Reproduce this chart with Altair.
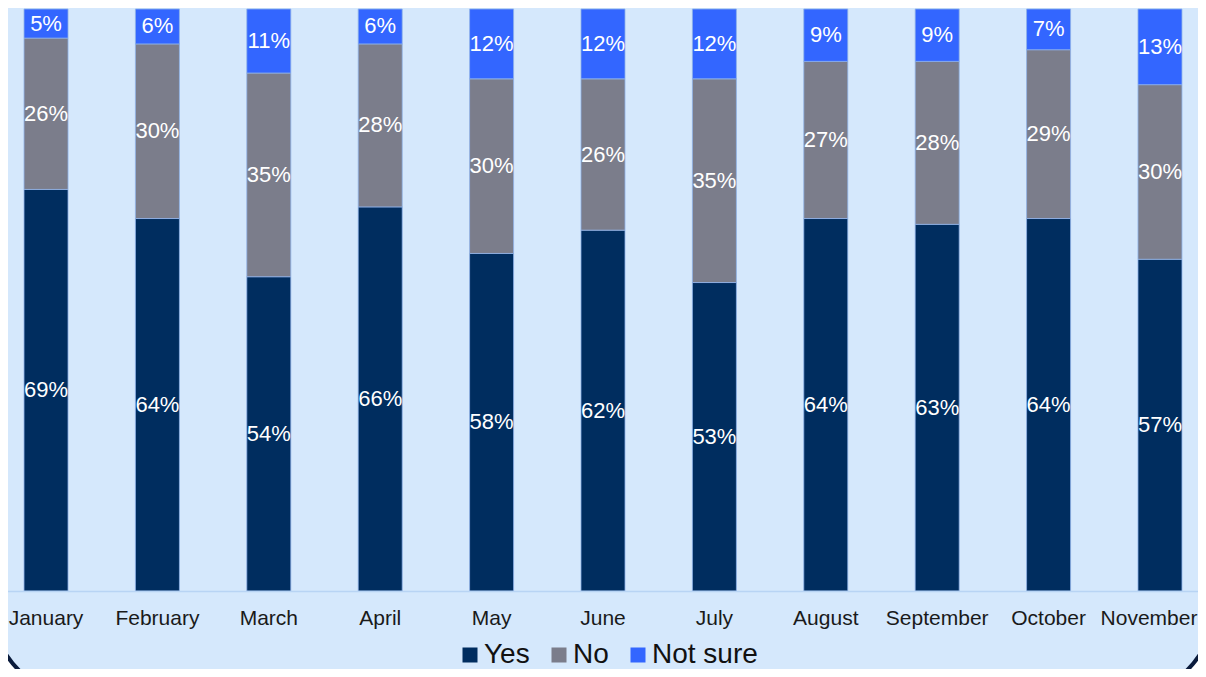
import altair as alt
import pandas as pd

months = ["January", "February", "March", "April", "May", "June",
          "July", "August", "September", "October", "November"]
yes = [69, 64, 54, 66, 58, 62, 53, 64, 63, 64, 57]
no = [26, 30, 35, 28, 30, 26, 35, 27, 28, 29, 30]
not_sure = [5, 6, 11, 6, 12, 12, 12, 9, 9, 7, 13]
series = ["Yes", "No", "Not sure"]
colors = ["#002D5F", "#7B7D8B", "#3366FF"]

rows = []
for i, m in enumerate(months):
    for k, (s, vals) in enumerate(zip(series, [yes, no, not_sure])):
        rows.append({"month": m, "series": s, "order": k, "value": vals[i]})
df = pd.DataFrame(rows)

FONT = "Liberation Sans"
W, H = 1190, 582

x_enc = alt.X(
    "month:N", sort=months,
    scale=alt.Scale(range=[-14, 1204], paddingInner=0.605, paddingOuter=0.2695),
    axis=alt.Axis(title=None, labelFontSize=21, labelFont=FONT, labelColor="#1A1A1A",
                  labelAngle=0, ticks=False, domainColor="#B8D4F4", domainWidth=1.5,
                  labelPadding=16, labelOverlap=False, grid=False, zindex=1,
                  labelOffset={"condition": {"test": "datum.value === 'November'", "value": -11},
                               "value": 0}),
)

base = alt.Chart(df).transform_stack(
    stack="value", groupby=["month"], as_=["y0", "y1"],
    sort=[alt.SortField("order", order="ascending")],
).transform_calculate(
    mid="(datum.y0 + datum.y1) / 2",
    label="datum.value + '%'",
)

bars = base.mark_bar(stroke="#8FB2E8", strokeWidth=0.8).encode(
    x=x_enc,
    y=alt.Y("y0:Q", scale=alt.Scale(domain=[0, 100]), axis=None),
    y2="y1:Q",
    color=alt.Color(
        "series:N",
        scale=alt.Scale(domain=series, range=colors),
        legend=alt.Legend(orient="none", legendX=448, legendY=632, direction="horizontal",
                          title=None, symbolType="square", symbolSize=225,
                          symbolStrokeWidth=0, labelFontSize=28, labelFont=FONT,
                          labelColor="#111111", labelOffset=0, columnPadding=15, padding=0,
                          zindex=1),
    ),
)

labels = base.mark_text(color="white", font=FONT, fontSize=22, baseline="middle").encode(
    x=x_enc,
    y=alt.Y("mid:Q", scale=alt.Scale(domain=[0, 100]), axis=None),
    text="label:N",
)

frame = alt.Chart(pd.DataFrame({"k": [0]})).mark_rect(
    fill="#D5E8FC", stroke="#0A1B3C", strokeWidth=4, cornerRadius=100
).encode(
    x=alt.value(-18), x2=alt.value(1208), y=alt.value(-120), y2=alt.value(691)
)

chart = alt.layer(frame, bars, labels).properties(
    width=W, height=H,
    padding={"left": 0, "right": 0, "top": 1, "bottom": 78},
    autosize=alt.AutoSizeParams(type="none"),
    background="white",
).configure_view(strokeWidth=0)

chart.save("out.html", embed_options={"renderer": "svg", "actions": False})
